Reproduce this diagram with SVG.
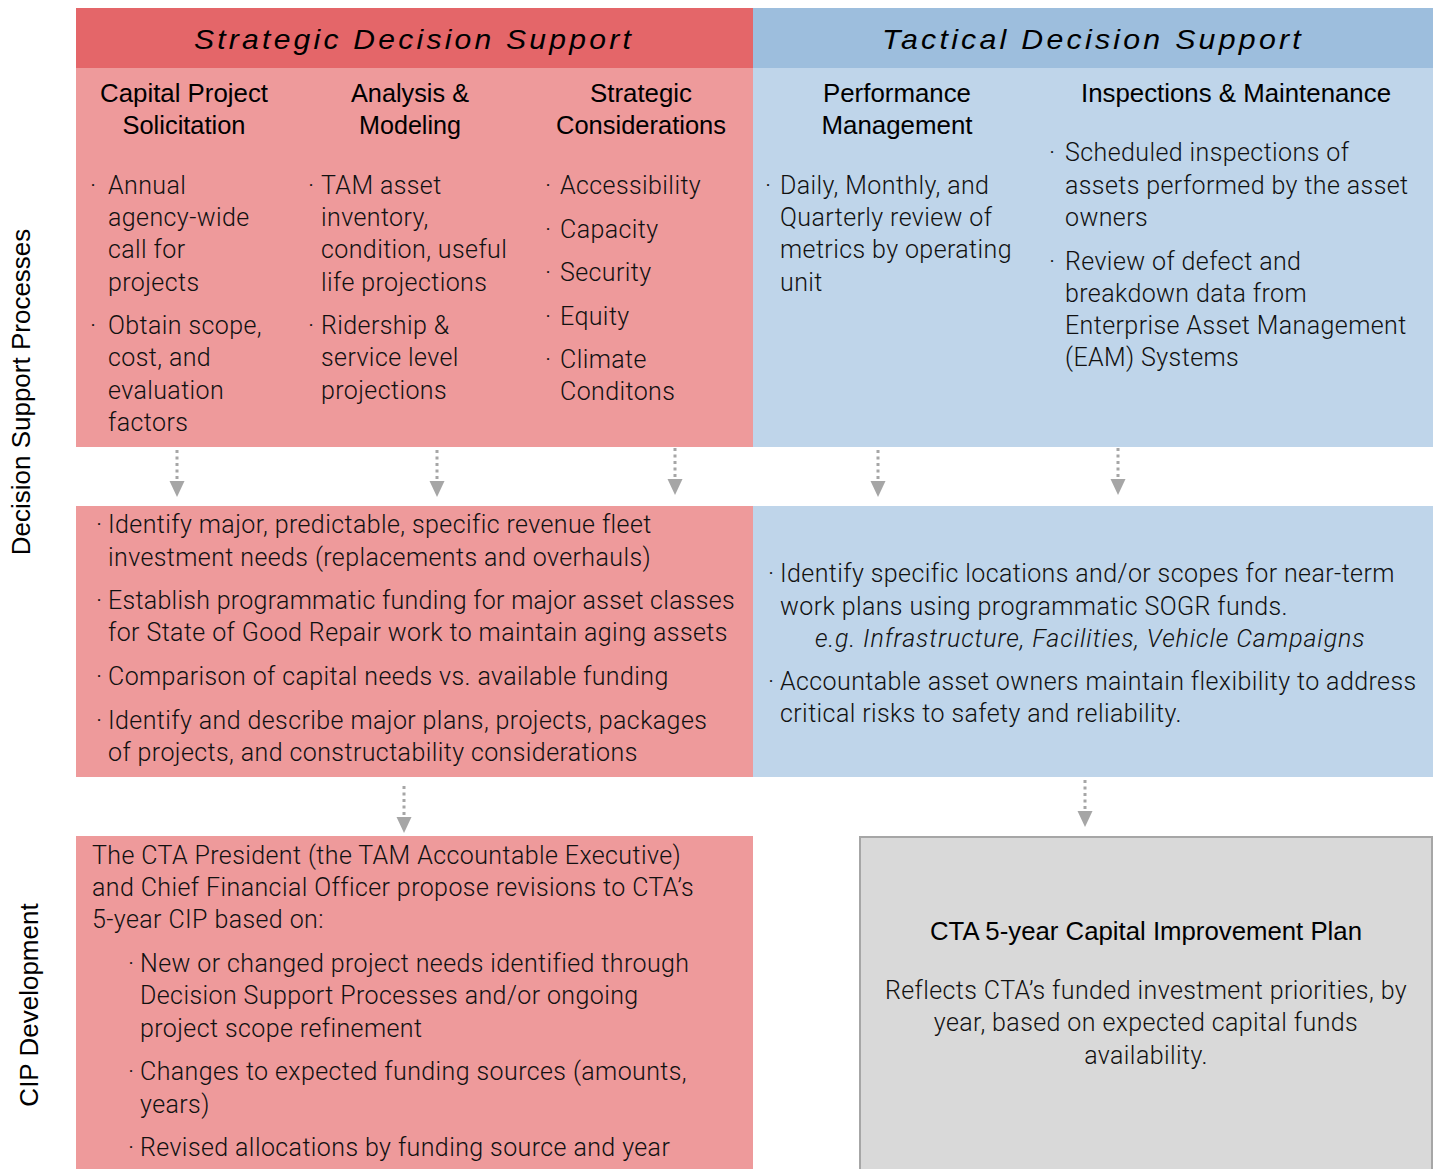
<svg xmlns="http://www.w3.org/2000/svg" width="1439" height="1169" viewBox="0 0 1439 1169">
<defs>
<marker id="ah" markerUnits="userSpaceOnUse" markerWidth="16" markerHeight="16" refX="0" refY="7.5" orient="auto" viewBox="0 0 16 15">
<path d="M0,0 L16,7.5 L0,15 Z" fill="#A6A6A6"/>
</marker>
<style>
.t{font-family:"Roboto","Liberation Sans",sans-serif;font-weight:300;font-size:25px;letter-spacing:0.4px;fill:#111}
.h{font-family:"Liberation Sans",Arial,sans-serif;font-size:26px;fill:#000;text-anchor:middle}
.hd{font-family:"Liberation Sans",Arial,sans-serif;font-style:italic;font-size:28px;fill:#000;text-anchor:middle;letter-spacing:3px}
.side{font-family:"Liberation Sans",Arial,sans-serif;font-size:26px;fill:#000;text-anchor:middle}
.c{fill:none;stroke:#A6A6A6;stroke-width:3;stroke-dasharray:3 3.5}
</style>
</defs>
<rect width="1439" height="1169" fill="#fff"/>
<g id="side-labels">
<text class="side" transform="translate(30 392) rotate(-90)">Decision Support Processes</text>
<text class="side" transform="translate(38 1005) rotate(-90)">CIP Development</text>
</g>
<g id="strategic-header">
<rect x="76" y="8" width="677" height="60" fill="#E46669"/>
<text class="hd" x="414" y="49" textLength="440" lengthAdjust="spacingAndGlyphs">Strategic Decision Support</text>
</g>
<g id="tactical-header">
<rect x="753" y="8" width="680" height="60" fill="#9DBEDD"/>
<text class="hd" x="1093" y="49" textLength="422" lengthAdjust="spacingAndGlyphs">Tactical Decision Support</text>
</g>
<g id="strategic-panel">
<rect x="76" y="68" width="677" height="379" fill="#EE9A9B"/>
<text class="h" x="184" y="102" textLength="168" lengthAdjust="spacingAndGlyphs">Capital Project</text>
<text class="h" x="184" y="134" textLength="123" lengthAdjust="spacingAndGlyphs">Solicitation</text>
<text class="h" x="410" y="102" textLength="118" lengthAdjust="spacingAndGlyphs">Analysis &amp;</text>
<text class="h" x="410" y="134" textLength="102" lengthAdjust="spacingAndGlyphs">Modeling</text>
<text class="h" x="641" y="102" textLength="102" lengthAdjust="spacingAndGlyphs">Strategic</text>
<text class="h" x="641" y="134" textLength="170" lengthAdjust="spacingAndGlyphs">Considerations</text>
<g class="t">
<text x="90" y="194">·</text><text x="108" y="194">Annual</text>
<text x="108" y="226">agency-wide</text>
<text x="108" y="258">call for</text>
<text x="108" y="291">projects</text>
<text x="90" y="334">·</text><text x="108" y="334">Obtain scope,</text>
<text x="108" y="366">cost, and</text>
<text x="108" y="399">evaluation</text>
<text x="108" y="431">factors</text>
<text x="308" y="194">·</text><text x="321" y="194">TAM asset</text>
<text x="321" y="226">inventory,</text>
<text x="321" y="258">condition, useful</text>
<text x="321" y="291">life projections</text>
<text x="308" y="334">·</text><text x="321" y="334">Ridership &amp;</text>
<text x="321" y="366">service level</text>
<text x="321" y="399">projections</text>
<text x="545" y="194">·</text><text x="560" y="194">Accessibility</text>
<text x="545" y="238">·</text><text x="560" y="238">Capacity</text>
<text x="545" y="281">·</text><text x="560" y="281">Security</text>
<text x="545" y="325">·</text><text x="560" y="325">Equity</text>
<text x="545" y="368">·</text><text x="560" y="368">Climate</text>
<text x="560" y="400">Conditons</text>
</g>
</g>
<g id="tactical-panel">
<rect x="753" y="68" width="680" height="379" fill="#BFD5EA"/>
<text class="h" x="897" y="102" textLength="148" lengthAdjust="spacingAndGlyphs">Performance</text>
<text class="h" x="897" y="134" textLength="151" lengthAdjust="spacingAndGlyphs">Management</text>
<text class="h" x="1236" y="102" textLength="310" lengthAdjust="spacingAndGlyphs">Inspections &amp; Maintenance</text>
<g class="t">
<text x="765" y="194">·</text><text x="780" y="194">Daily, Monthly, and</text>
<text x="780" y="226">Quarterly review of</text>
<text x="780" y="258">metrics by operating</text>
<text x="780" y="291">unit</text>
<text x="1049" y="161">·</text><text x="1065" y="161">Scheduled inspections of</text>
<text x="1065" y="194">assets performed by the asset</text>
<text x="1065" y="226">owners</text>
<text x="1049" y="270">·</text><text x="1065" y="270">Review of defect and</text>
<text x="1065" y="302">breakdown data from</text>
<text x="1065" y="334">Enterprise Asset Management</text>
<text x="1065" y="366">(EAM) Systems</text>
</g>
</g>
<g id="strategic-needs">
<rect x="76" y="506" width="677" height="271" fill="#EE9A9B"/>
<g class="t">
<text x="96" y="533">·</text><text x="108" y="533">Identify major, predictable, specific revenue fleet</text>
<text x="108" y="566">investment needs (replacements and overhauls)</text>
<text x="96" y="609">·</text><text x="108" y="609" textLength="627">Establish programmatic funding for major asset classes</text>
<text x="108" y="641">for State of Good Repair work to maintain aging assets</text>
<text x="96" y="685">·</text><text x="108" y="685">Comparison of capital needs vs. available funding</text>
<text x="96" y="729">·</text><text x="108" y="729">Identify and describe major plans, projects, packages</text>
<text x="108" y="761">of projects, and constructability considerations</text>
</g>
</g>
<g id="tactical-needs">
<rect x="753" y="506" width="680" height="271" fill="#BFD5EA"/>
<g class="t">
<text x="768" y="582">·</text><text x="780" y="582">Identify specific locations and/or scopes for near-term</text>
<text x="780" y="615">work plans using programmatic SOGR funds.</text>
<text x="815" y="647" font-style="italic" textLength="550">e.g. Infrastructure, Facilities, Vehicle Campaigns</text>
<text x="768" y="690">·</text><text x="780" y="690">Accountable asset owners maintain flexibility to address</text>
<text x="780" y="722">critical risks to safety and reliability.</text>
</g>
</g>
<g id="cip-proposal">
<rect x="76" y="836" width="677" height="333" fill="#EE9A9B"/>
<g class="t">
<text x="92" y="864">The CTA President (the TAM Accountable Executive)</text>
<text x="92" y="896">and Chief Financial Officer propose revisions to CTA’s</text>
<text x="92" y="928">5-year CIP based on:</text>
<text x="128" y="972">·</text><text x="140" y="972">New or changed project needs identified through</text>
<text x="140" y="1004">Decision Support Processes and/or ongoing</text>
<text x="140" y="1037">project scope refinement</text>
<text x="128" y="1080">·</text><text x="140" y="1080">Changes to expected funding sources (amounts,</text>
<text x="140" y="1113">years)</text>
<text x="128" y="1156">·</text><text x="140" y="1156">Revised allocations by funding source and year</text>
</g>
</g>
<g id="cip-plan">
<rect x="860" y="837" width="572" height="334" fill="#D9D9D9" stroke="#A6A6A6" stroke-width="2"/>
<text class="h" x="1146" y="940" textLength="432" lengthAdjust="spacingAndGlyphs">CTA 5-year Capital Improvement Plan</text>
<g class="t" text-anchor="middle">
<text x="1146" y="999">Reflects CTA’s funded investment priorities, by</text>
<text x="1146" y="1031">year, based on expected capital funds</text>
<text x="1146" y="1064">availability.</text>
</g>
</g>
<g id="connectors">
<line class="c" x1="177" y1="450" x2="177" y2="481" marker-end="url(#ah)"/>
<line class="c" x1="437" y1="450" x2="437" y2="481" marker-end="url(#ah)"/>
<line class="c" x1="675" y1="448" x2="675" y2="479" marker-end="url(#ah)"/>
<line class="c" x1="878" y1="450" x2="878" y2="481" marker-end="url(#ah)"/>
<line class="c" x1="1118" y1="448" x2="1118" y2="479" marker-end="url(#ah)"/>
<line class="c" x1="404" y1="786" x2="404" y2="817" marker-end="url(#ah)"/>
<line class="c" x1="1085" y1="780" x2="1085" y2="811" marker-end="url(#ah)"/>
</g>
</svg>
